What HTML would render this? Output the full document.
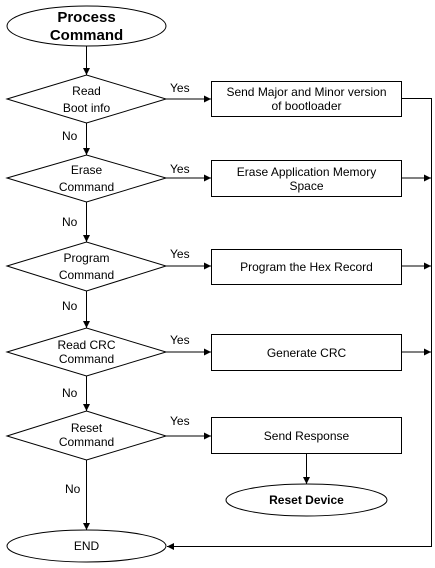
<!DOCTYPE html>
<html><head><style>body{margin:0;background:#fff}svg{display:block}</style></head><body>
<svg width="435" height="568" viewBox="0 0 435 568" xmlns="http://www.w3.org/2000/svg" font-family="Liberation Sans, Arial, sans-serif" font-size="12">
<defs><marker id="a" markerWidth="8" markerHeight="8" refX="7" refY="4" orient="auto" markerUnits="userSpaceOnUse"><path d="M0,0.5 L7,4 L0,7.5 Z" fill="#000"/></marker></defs>
<g stroke="#000" stroke-width="1" fill="#fff">
<ellipse cx="86.5" cy="26" rx="79.5" ry="20"/>
<polygon points="7,99 86.5,75 166,99 86.5,123"/>
<polygon points="7,178 86.5,155 166,178 86.5,202"/>
<polygon points="7,266 86.5,242 166,266 86.5,291"/>
<polygon points="7,352 86.5,328 166,352 86.5,376"/>
<polygon points="7,436 86.5,411 166,436 86.5,460"/>
<rect x="211.5" y="81.5" width="190" height="35"/>
<rect x="211.5" y="160.5" width="190" height="36"/>
<rect x="211.5" y="249.5" width="190" height="35"/>
<rect x="211.5" y="334.5" width="190" height="36"/>
<rect x="211.5" y="417.5" width="190" height="36"/>
<ellipse cx="306.5" cy="500" rx="80.5" ry="16"/>
<ellipse cx="86.5" cy="546" rx="79.5" ry="16"/>
</g>
<g stroke="#000" stroke-width="1" fill="none">
<line x1="86.5" y1="46" x2="86.5" y2="75" marker-end="url(#a)"/>
<line x1="86.5" y1="123" x2="86.5" y2="155" marker-end="url(#a)"/>
<line x1="86.5" y1="202" x2="86.5" y2="242" marker-end="url(#a)"/>
<line x1="86.5" y1="291" x2="86.5" y2="328" marker-end="url(#a)"/>
<line x1="86.5" y1="376" x2="86.5" y2="411" marker-end="url(#a)"/>
<line x1="86.5" y1="460" x2="86.5" y2="530" marker-end="url(#a)"/>
<line x1="166" y1="99" x2="211" y2="99" marker-end="url(#a)"/>
<line x1="166" y1="178" x2="211" y2="178" marker-end="url(#a)"/>
<line x1="166" y1="266" x2="211" y2="266" marker-end="url(#a)"/>
<line x1="166" y1="352" x2="211" y2="352" marker-end="url(#a)"/>
<line x1="166" y1="436" x2="211" y2="436" marker-end="url(#a)"/>
<line x1="306.5" y1="454" x2="306.5" y2="484" marker-end="url(#a)"/>
<polyline points="401,98.5 431.5,98.5 431.5,546.5 167,546.5" marker-end="url(#a)"/>
<line x1="401" y1="178" x2="431" y2="178" marker-end="url(#a)"/>
<line x1="401" y1="266" x2="431" y2="266" marker-end="url(#a)"/>
<line x1="401" y1="352" x2="431" y2="352" marker-end="url(#a)"/>
</g>
<g text-anchor="middle" fill="#000">
<text x="86.5" y="22" font-size="15" font-weight="bold">Process</text>
<text x="86.5" y="40" font-size="15" font-weight="bold">Command</text>
<text x="86.5" y="95">Read</text><text x="86.5" y="112">Boot info</text>
<text x="86.5" y="174">Erase</text><text x="86.5" y="191">Command</text>
<text x="86.5" y="262">Program</text><text x="86.5" y="279">Command</text>
<text x="86.5" y="349">Read CRC</text><text x="86.5" y="363">Command</text>
<text x="86.5" y="432">Reset</text><text x="86.5" y="446">Command</text>
<text x="306.5" y="96">Send Major and Minor version</text><text x="306.5" y="110">of bootloader</text>
<text x="306.5" y="176">Erase Application Memory</text><text x="306.5" y="190">Space</text>
<text x="306.5" y="271">Program the Hex Record</text>
<text x="306.5" y="357">Generate CRC</text>
<text x="306.5" y="440">Send Response</text>
<text x="306.5" y="504" font-weight="bold">Reset Device</text>
<text x="86.5" y="550">END</text>
</g>
<g fill="#000">
<text x="170" y="92">Yes</text><text x="170" y="173">Yes</text><text x="170" y="258">Yes</text><text x="170" y="344">Yes</text><text x="170" y="425">Yes</text>
<text x="62" y="140">No</text><text x="62" y="226">No</text><text x="62" y="310">No</text><text x="62" y="397">No</text><text x="65" y="493">No</text>
</g>
</svg>
</body></html>
